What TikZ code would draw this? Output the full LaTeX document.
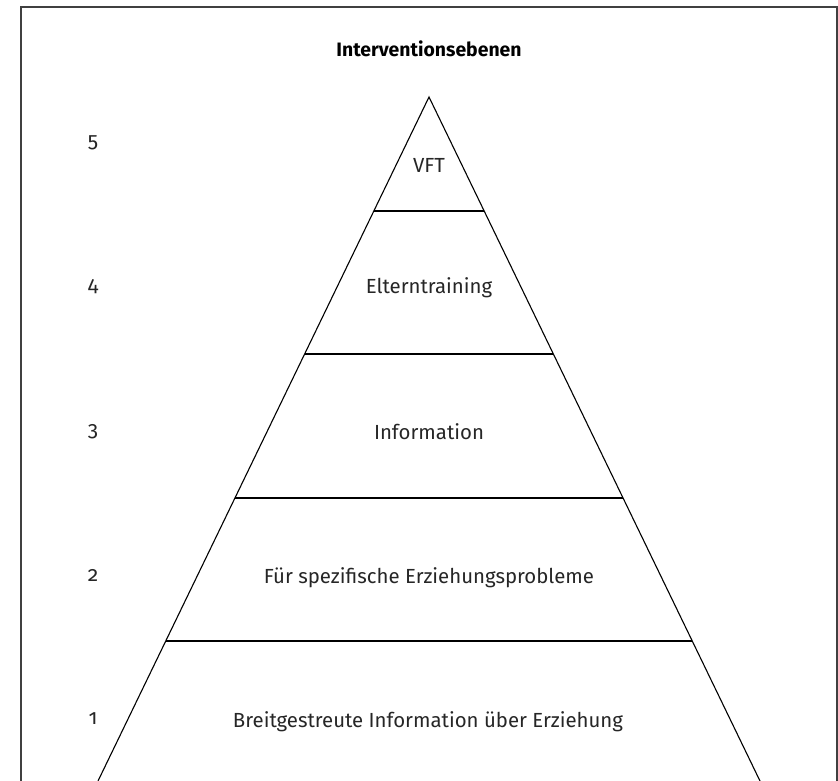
\documentclass[tikz,border=0pt]{standalone}
\usepackage{fontspec}
\setmainfont{Fira Sans}[Numbers=OldStyle]
\usetikzlibrary{calc}
\begin{document}
\begin{tikzpicture}[x=1pt,y=-1pt,
  frameline/.style={draw=black!75,line width=1.3pt},
  pyrline/.style={draw=black,line width=1.1pt,line join=miter},
  layertext/.style={text=black!85,font=\fontsize{20.4}{24}\selectfont,anchor=base,inner sep=0pt},
  levelnum/.style={text=black!85,font=\fontsize{21}{24}\selectfont,anchor=base,inner sep=0pt},
  titletext/.style={text=black,font=\bfseries\fontsize{19.4}{23}\selectfont,anchor=base,inner sep=0pt}]
\useasboundingbox (0,0) rectangle (838,781);
% frame (bottom edge lies outside the picture)
\draw[frameline] (21,800) -- (21,7) -- (837,7) -- (837,800);
% pyramid
\coordinate (apex) at (429,97);
\coordinate (bl) at (98,781);
\coordinate (br) at (760,781);
\draw[pyrline] (bl) -- (apex) -- (br);
\foreach \yy/\nm in {211/a,354/b,498/c,641/d}{
  \coordinate (\nm L) at ($(apex)!{(\yy-97)/684}!(bl)$);
  \coordinate (\nm R) at ($(apex)!{(\yy-97)/684}!(br)$);
  \draw[pyrline] (\nm L) -- (\nm R);
}
\node[titletext] (title) at (429,57) {Interventionsebenen};
\node[layertext] (t5) at (429,172) {VFT};
\node[layertext] (t4) at (429,293) {Elterntraining};
\node[layertext] (t3) at (429,439) {Information};
\node[layertext] (t2) at (429,583) {Für spezifische Erziehungsprobleme};
\node[layertext] (t1) at (428,727) {Breitgestreute Information über Erziehung};
\node[levelnum] (n5) at (93,147) {5};
\node[levelnum] (n4) at (93,291) {4};
\node[levelnum] (n3) at (93,436) {3};
\node[levelnum] (n2) at (93,581) {2};
\node[levelnum] (n1) at (93,724) {1};
\end{tikzpicture}
\end{document}
